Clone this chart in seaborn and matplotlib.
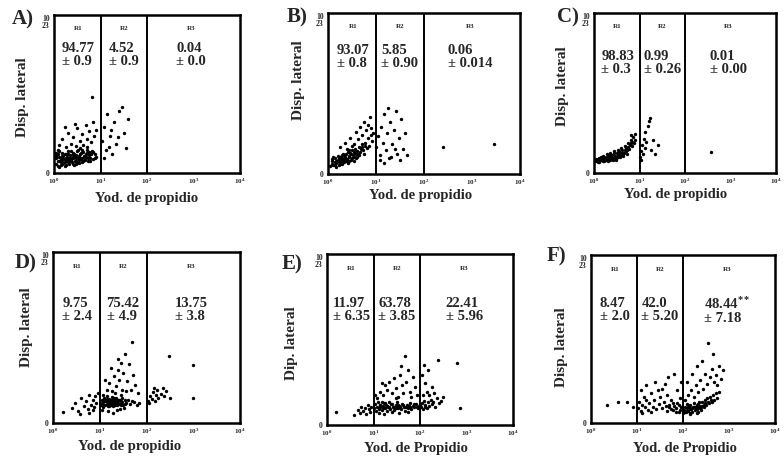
import matplotlib
matplotlib.use("Agg")
import matplotlib.pyplot as plt
import matplotlib.transforms as mtransforms
from matplotlib.ticker import NullLocator
import pandas as pd
import seaborn as sns

# textos de cada panel
letras = ["A)", "B)", "C)", "D)", "E)", "F)"]
regiones = ["R1", "R2", "R3"]
medias = [["94.77", "4.52", "0.04"],
          ["93.07", "5.85", "0.06"],
          ["98.83", "0.99", "0.01"],
          ["9.75", "75.42", "13.75"],
          ["11.97", "63.78", "22.41"],
          ["8.47", "42.0", "48.44$^{**}$"]]
errores = [["± 0.9", "± 0.9", "± 0.0"],
           ["± 0.8", "± 0.90", "± 0.014"],
           ["± 0.3", "± 0.26", "± 0.00"],
           ["± 2.4", "± 4.9", "± 3.8"],
           ["± 6.35", "± 3.85", "± 5.96"],
           ["± 2.0", "± 5.20", "± 7.18"]]
etiquetas_x = ["Yod. de propidio"] * 4 + ["Yod. de Propidio"] * 2
etiquetas_y = ["Disp. lateral"] * 4 + ["Dip. lateral", "Disp. lateral"]
limites_region = [10, 100]
ticks_x = [1, 10, 100, 1000, 10000]
ticks_x_txt = [r"$\mathbf{10^0}$", r"$\mathbf{10^1}$", r"$\mathbf{10^2}$",
               r"$\mathbf{10^3}$", r"$\mathbf{10^4}$"]
ticks_y = [0, 1023]
ticks_y_txt = ["0", "10\n23"]

# eventos leidos a ojo: (yoduro de propidio, dispersion lateral)
pts_a = [(1.1, 60), (1.1, 95), (1.2, 45), (1.2, 120), (1.3, 75), (1.3, 140), (1.4, 55), (1.4, 100),
         (1.5, 85), (1.5, 130), (1.6, 65), (1.6, 110), (1.7, 90), (1.8, 50), (1.8, 125), (1.9, 75),
         (2.0, 100), (2.0, 145), (2.1, 60), (2.2, 115), (2.3, 85), (2.4, 70), (2.5, 130), (2.6, 95),
         (2.7, 55), (2.8, 110), (3.0, 80), (3.1, 140), (3.3, 100), (3.5, 65), (3.6, 120), (3.8, 90),
         (4.0, 150), (4.2, 75), (4.4, 110), (4.7, 95), (5.0, 130), (5.3, 80), (5.6, 115), (6.0, 100),
         (6.5, 140), (7.0, 90), (7.5, 120), (8.0, 105), (1.2, 80), (1.4, 70), (1.6, 90), (1.9, 105),
         (2.2, 80), (2.5, 60), (2.9, 95), (3.4, 85), (4.1, 100), (4.8, 120), (5.8, 135), (1.3, 105),
         (1.7, 125), (2.1, 90), (2.6, 115), (3.2, 70), (3.9, 130), (4.6, 85), (5.5, 100),
         (1.1, 130), (1.2, 150), (1.3, 40), (1.5, 110), (1.5, 60), (1.7, 45), (1.8, 95), (2.0, 120),
         (2.0, 70), (2.3, 140), (2.4, 100), (2.7, 125), (2.8, 75), (3.0, 115), (3.3, 150),
         (3.6, 95), (4.0, 70), (4.3, 135), (4.9, 105), (5.2, 150), (6.0, 75), (6.3, 120),
         (7.0, 135), (7.5, 95), (2.2, 100), (1.4, 85), (1.7, 70), (3.5, 110), (2.9, 60), (1.1, 110),
         (1.3, 180), (1.5, 220), (1.8, 170), (2.0, 260), (2.3, 190), (2.6, 230), (3.0, 175),
         (3.2, 290), (3.6, 210), (4.0, 250), (4.3, 180), (4.8, 310), (5.2, 220), (5.7, 270),
         (6.2, 200), (6.8, 330), (7.3, 240), (8.2, 280), (1.7, 300), (2.8, 320), (3.7, 160),
         (5.0, 170), (6.6, 490),
         (11, 210), (12, 300), (13, 150), (14, 380), (16, 240), (18, 120), (20, 330), (22, 190),
         (25, 400), (29, 427), (32, 260), (35, 160), (12, 100), (15, 170), (17, 280), (24, 230),
         (40, 350)]
pts_b = [(1.1, 50), (1.2, 80), (1.3, 60), (1.4, 100), (1.5, 70), (1.6, 90), (1.7, 55), (1.8, 110),
         (1.9, 80), (2.0, 100), (2.1, 130), (2.2, 75), (2.3, 110), (2.5, 95), (2.6, 140), (2.8, 115),
         (3.0, 90), (3.1, 150), (3.3, 120), (3.5, 105), (3.7, 160), (3.9, 130), (4.1, 110),
         (4.4, 170), (4.7, 140), (5.0, 190), (5.3, 150), (5.6, 125), (6.0, 200), (6.4, 165),
         (6.8, 230), (7.2, 180), (7.7, 250), (8.3, 210), (8.8, 260), (1.2, 65), (1.4, 75),
         (1.6, 115), (1.9, 95), (2.2, 120), (2.4, 85), (2.7, 105), (2.9, 135), (3.4, 140),
         (3.8, 100), (4.3, 125), (4.9, 160), (5.8, 175), (1.5, 45), (2.0, 65), (2.6, 70),
         (1.2, 95), (1.3, 110), (1.5, 85), (1.7, 100), (1.8, 65), (2.0, 120), (2.2, 95),
         (2.4, 130), (2.7, 85), (3.0, 125), (3.2, 100), (3.6, 135), (4.0, 145), (4.5, 120),
         (5.2, 170), (1.4, 60), (1.7, 75), (2.1, 85), (2.8, 150), (3.5, 85),
         (1.8, 170), (2.3, 200), (2.9, 230), (3.4, 190), (3.8, 270), (4.2, 220), (4.6, 300),
         (5.1, 250), (5.5, 330), (6.2, 280), (6.9, 310), (7.5, 360), (8.0, 290), (2.5, 160),
         (3.2, 180),
         (10, 170), (11, 240), (12, 120), (13, 300), (14, 200), (15, 380), (16, 150), (17, 260),
         (18, 420), (19, 100), (20, 330), (22, 190), (24, 280), (26, 400), (28, 130), (30, 230),
         (33, 350), (36, 160), (40, 260), (44, 120), (12, 90), (15, 70), (21, 110), (25, 160),
         (31, 90), (250, 170), (2900, 190)]
pts_c = [(1.1, 75), (1.2, 90), (1.3, 70), (1.4, 100), (1.5, 80), (1.6, 110), (1.7, 75), (1.8, 95),
         (1.9, 120), (2.0, 85), (2.1, 105), (2.2, 130), (2.3, 80), (2.5, 115), (2.6, 95),
         (2.8, 140), (3.0, 105), (3.1, 85), (3.3, 150), (3.5, 120), (3.7, 100), (3.9, 160),
         (4.1, 130), (4.4, 110), (4.7, 175), (5.0, 140), (5.3, 120), (5.6, 190), (6.0, 155),
         (6.4, 210), (6.8, 170), (7.2, 230), (7.6, 190), (8.0, 250), (1.2, 80), (1.4, 85),
         (1.6, 90), (1.9, 100), (2.2, 95), (2.5, 90), (2.9, 110), (3.4, 100), (4.0, 115),
         (4.6, 130), (5.4, 145), (6.2, 180), (7.0, 200), (1.3, 95), (1.8, 80), (2.4, 100),
         (3.2, 125), (4.2, 145), (5.0, 160), (7.8, 210), (6.6, 240),
         (1.2, 70), (1.5, 95), (1.7, 105), (2.0, 75), (2.1, 115), (2.3, 110), (2.7, 125),
         (3.0, 90), (3.3, 115), (3.6, 140), (4.3, 120), (4.8, 150), (5.7, 165), (6.5, 195),
         (2.6, 85), (3.8, 125), (1.1, 90), (1.6, 75),
         (10.5, 100), (11, 140), (11.5, 180), (12, 120), (12.5, 220), (13, 160), (13.5, 260),
         (14, 200), (15, 300), (16, 330), (17, 350), (18, 150), (20, 210), (22, 120), (25, 180),
         (11, 80), (380, 134)]
pts_d = [(1.6, 66), (2.5, 90), (3.0, 120), (3.5, 70), (4.0, 150), (4.5, 100), (5.0, 130), (5.5, 85),
         (6.0, 170), (6.5, 110), (7.0, 140), (7.5, 95), (8.0, 160), (8.5, 120), (9.0, 180),
         (3.8, 55), (5.8, 60), (7.2, 75),
         (10.5, 110), (11, 140), (11.5, 95), (12, 125), (12.5, 150), (13, 105), (13.5, 135),
         (14, 115), (14.5, 160), (15, 100), (15.5, 130), (16, 145), (17, 110), (17.5, 125),
         (18, 155), (19, 100), (20, 135), (21, 120), (22, 150), (23, 105), (24, 140), (26, 115),
         (28, 130), (30, 150), (32, 110), (34, 135), (37, 120), (40, 140), (44, 115), (48, 130),
         (55, 125), (62, 110), (70, 120), (11, 120), (13, 130), (15, 115), (17, 140), (19, 125),
         (21, 105), (23, 130), (25, 120), (27, 140), (29, 115), (12, 110), (14, 130), (16, 120),
         (18, 135), (20, 110), (22, 125), (24, 115), (26, 135), (14, 145), (18, 115), (16, 100),
         (12, 140), (20, 150), (30, 125), (35, 115), (28, 105),
         (12, 170), (14, 200), (16, 240),
         (18, 190), (20, 280), (22, 220), (24, 320), (26, 260), (28, 360), (30, 200), (32, 300),
         (35, 410), (38, 250), (42, 350), (46, 200), (49, 485), (52, 290), (58, 230), (65, 180),
         (13, 260), (17, 330), (21, 180), (25, 380), (29, 170), (36, 190), (11, 80), (15, 70),
         (19, 60), (23, 75), (27, 85), (33, 90),
         (110, 130), (120, 160), (130, 145), (140, 185), (150, 130), (160, 170), (170, 200),
         (180, 150), (200, 175), (220, 210), (240, 160), (260, 190), (300, 400), (320, 150),
         (990, 347), (990, 150), (115, 120), (145, 210)]
pts_e = [(1.56, 78), (4.6, 90), (5.0, 70), (5.5, 110), (6.0, 85), (6.5, 100), (7.0, 65), (7.5, 120),
         (8.0, 95), (8.5, 75), (9.0, 105), (3.8, 60),
         (10.5, 100), (11, 125), (11.5, 85), (12, 110), (12.5, 135), (13, 95), (13.5, 120),
         (14, 105), (15, 140), (15.5, 90), (16, 115), (17, 130), (18, 100), (19, 120), (20, 85),
         (21, 110), (22, 135), (23, 95), (24, 125), (26, 105), (28, 90), (30, 120), (32, 135),
         (34, 100), (36, 115), (39, 95), (42, 125), (45, 110), (48, 85), (52, 120), (56, 100),
         (60, 130), (65, 95), (70, 115), (76, 105), (82, 125), (90, 100), (96, 115),
         (14, 120), (16, 100), (18, 130), (20, 115), (22, 105), (25, 125), (28, 110), (30, 100),
         (33, 120), (38, 110), (44, 120), (50, 105), (58, 115), (62, 110), (75, 125), (85, 110),
         (95, 105), (100, 120),
         (12, 160), (14, 200), (16, 180), (18, 240), (20, 210), (22, 260), (25, 190), (28, 280),
         (31, 220), (34, 170), (38, 300), (41, 240), (44, 190), (47.5, 413), (50, 260), (55, 330),
         (60, 200), (65, 170), (72, 290), (80, 230), (88, 180), (13, 70), (17, 65), (25, 75),
         (35, 70), (55, 75), (11, 180), (15, 250), (30, 160), (40, 350),
         (105, 110), (110, 130), (115, 95), (120, 145), (125, 105), (130, 120), (140, 100),
         (150, 135), (160, 115), (170, 150), (180, 125), (195, 140), (210, 110), (230, 160),
         (250, 130), (280, 145), (320, 170), (240, 389), (110, 300), (120, 360), (130, 250),
         (140, 200), (160, 180), (180, 230), (200, 190), (625, 370), (720, 100), (150, 330),
         (115, 180)]
pts_f = [(2.2, 110), (3.8, 125), (6.2, 130), (8.0, 100),
         (10.5, 90), (11, 130), (12, 75), (13, 110), (14, 160), (15, 95), (16, 140), (17, 80),
         (18, 120), (20, 180), (22, 100), (24, 140), (26, 85), (28, 200), (30, 115), (32, 160),
         (35, 90), (38, 130), (40, 240), (42, 105), (45, 170), (48, 280), (50, 95), (55, 140),
         (60, 120), (65, 300), (70, 90), (75, 200), (80, 110), (85, 150), (90, 250), (95, 100),
         (12, 200), (16, 230), (25, 250), (35, 210), (13, 60), (20, 70), (60, 80), (45, 75),
         (50, 110), (55, 85), (65, 105), (70, 70), (75, 120), (85, 80), (90, 95),
         (105, 80), (110, 100), (115, 65), (120, 90), (125, 115), (130, 75), (135, 95), (140, 60),
         (145, 110), (150, 85), (160, 70), (165, 100), (170, 120), (180, 80), (190, 95),
         (200, 110), (210, 70), (220, 130), (230, 90), (240, 105), (250, 80), (260, 125),
         (280, 95), (300, 140), (320, 110), (340, 150), (360, 120), (390, 160), (420, 130),
         (450, 170), (480, 140), (520, 180), (560, 150), (600, 190),
         (120, 75), (140, 85), (160, 90), (180, 100), (200, 85), (220, 100), (250, 95), (280, 110),
         (300, 120), (350, 130), (400, 140), (130, 110), (170, 95), (110, 70), (210, 115),
         (260, 105),
         (110, 140), (130, 170), (150, 200), (170, 160), (190, 230), (210, 190), (240, 260),
         (270, 210), (300, 300), (330, 240), (350, 487), (380, 280), (420, 330), (450, 420),
         (480, 250), (520, 290), (560, 230), (620, 350), (725, 325), (680, 270), (120, 250),
         (160, 300), (200, 350), (260, 380), (100, 60), (140, 55), (200, 60), (80, 70)]
puntos = [pts_a, pts_b, pts_c, pts_d, pts_e, pts_f]

sns.set_style("white")
plt.rcParams["font.family"] = ["Liberation Serif", "DejaVu Serif"]
plt.rcParams["mathtext.fontset"] = "custom"
plt.rcParams["mathtext.bf"] = "Liberation Serif:bold"
plt.rcParams["mathtext.rm"] = "Liberation Serif:bold"
plt.rcParams["mathtext.it"] = "Liberation Serif:bold"

W, H = 784, 458
fig = plt.figure(figsize=(W / 100, H / 100), dpi=100)
fig.patch.set_facecolor("white")

# cajas de los ejes en pixeles: izquierda, arriba, derecha, abajo
cajas = [(54, 15, 240, 173), (328, 13, 520, 174), (594, 13, 776, 173),
         (53, 252, 240, 423), (327, 254, 513, 425), (591, 255, 775, 423)]
# centro de los textos de valores (coordenada y de ejes)
y_valores = [0.745, 0.725, 0.69, 0.66, 0.675, 0.67]
pos_letra = [(-0.17, 0.97), (-0.16, 0.97), (-0.145, 0.975),
             (-0.145, 0.935), (-0.19, 0.94), (-0.19, 0.99)]
pos_xlab = [(0.50, 27), (0.48, 23), (0.45, 23), (0.41, 25), (0.48, 25), (0.51, 27)]
pos_ylab = [(-0.18, 0.48), (-0.16, 0.58), (-0.18, 0.54), (-0.15, 0.56), (-0.20, 0.48), (-0.17, 0.45)]
x_textos = [3.3, 31.6, 900]

for i, (l, t, r, b) in enumerate(cajas):
    ax = fig.add_axes([l / W, 1 - b / H, (r - l) / W, (b - t) / H])
    df = pd.DataFrame(puntos[i], columns=["yodo", "disp"])
    sns.scatterplot(data=df, x="yodo", y="disp", ax=ax, color="black",
                    s=6, marker="o", linewidth=0, legend=False)
    ax.set_xscale("log")
    ax.set_xlim(1, 1e4)
    ax.set_ylim(0, 1023)
    for lim in limites_region:
        ax.axvline(lim, color="black", lw=1.4)
    for sp in ax.spines.values():
        sp.set_linewidth(1.8)
        sp.set_color("black")

    ax.set_xticks(ticks_x)
    ax.set_xticklabels(ticks_x_txt, fontsize=5)
    ax.xaxis.set_minor_locator(NullLocator())
    ax.set_yticks(ticks_y)
    ax.set_yticklabels(ticks_y_txt, fontsize=5.5, fontweight="bold", linespacing=0.8)
    ax.get_yticklabels()[1].set_verticalalignment("top")
    ax.tick_params(axis="both", length=2, width=0.8, pad=1, color="black")

    ax.set_xlabel(etiquetas_x[i], fontsize=10.5, fontweight="bold")
    ax.xaxis.set_label_coords(pos_xlab[i][0], -(pos_xlab[i][1] - 8) / (b - t))
    ax.set_ylabel(etiquetas_y[i], fontsize=11, fontweight="bold")
    ax.yaxis.set_label_coords(pos_ylab[i][0] + 8 / (r - l), pos_ylab[i][1])

    ax.text(*pos_letra[i], letras[i], transform=ax.transAxes, fontsize=15,
            fontweight="bold", ha="center", va="center")

    trans = mtransforms.blended_transform_factory(ax.transData, ax.transAxes)
    for j, reg in enumerate(regiones):
        ax.text(x_textos[j], 0.915, reg, transform=trans, fontsize=5,
                fontweight="bold", ha="center", va="center")
        ax.text(x_textos[j], y_valores[i], medias[i][j] + "\n" + errores[i][j],
                transform=trans, fontsize=10.5, fontweight="bold", ha="center",
                va="center", multialignment="left", linespacing=1.0)

fig.savefig("out.png", dpi=100, facecolor="white")
